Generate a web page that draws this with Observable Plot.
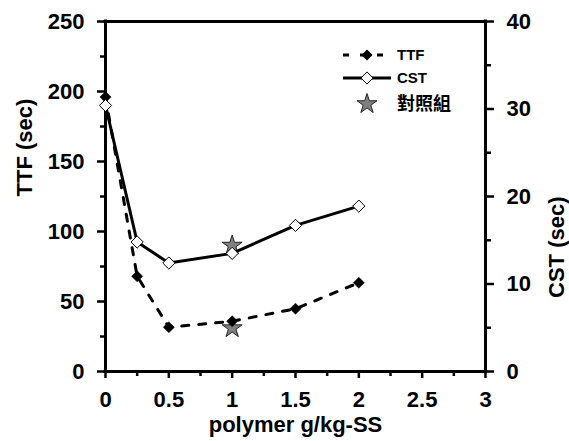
<!DOCTYPE html>
<html>
<head>
<meta charset="utf-8">
<script src="https://cdn.jsdelivr.net/npm/d3@7"></script>
<script src="https://cdn.jsdelivr.net/npm/@observablehq/plot@0.6"></script>
<style>
  html, body { margin: 0; padding: 0; background: #fff; }
  #chart { width: 569px; height: 441px; }
</style>
</head>
<body>
<div id="chart"></div>
<script>
// Polymer dose (g/kg-SS) and the two dewatering measures
const dose = [0, 0.25, 0.5, 1, 1.5, 2];
const ttf = [196, 68, 31.6, 35.9, 44.8, 63.4];   // time to filter, sec (left axis)
const cst = [30.4, 14.8, 12.4, 13.5, 16.7, 18.9]; // capillary suction time, sec (right axis)

// Control sample (對照組)
const controlDose = [1];
const controlTTF = [31];
const controlCST = [14.4];

// Axis ticks
const xTicks = [0, 0.5, 1, 1.5, 2, 2.5, 3];
const xMinor = [0.25, 0.75, 1.25, 1.75, 2.25, 2.75];
const ttfTicks = [0, 50, 100, 150, 200, 250];
const ttfMinor = [25, 75, 125, 175, 225];
const cstTicks = [0, 10, 20, 30, 40];
const cstMinor = [5, 15, 25, 35];

const legendLabels = ["TTF", "CST", "對照組"];

// CST is drawn on the TTF scale: 0–40 s maps onto 0–250 s
const k = 250 / 40;

const rows = dose.map((d, i) => ({dose: d, ttf: ttf[i], cst: cst[i]}));
const control = controlDose.map((d, i) => ({dose: d, ttf: controlTTF[i], cst: controlCST[i]}));

const font = "'Liberation Sans', Arial, sans-serif";

const chart = Plot.plot({
  width: 569,
  height: 441,
  marginLeft: 105,
  marginRight: 84,
  marginTop: 21,
  marginBottom: 70,
  style: {fontFamily: font, fontWeight: "bold", fontSize: "22px", color: "black", background: "white", overflow: "visible"},
  x: {domain: [0, 3]},
  y: {domain: [0, 250]},
  marks: [
    // bottom axis
    Plot.axisX({ticks: xTicks, tickSize: 7, tickPadding: 13, strokeWidth: 2.5, label: null, tickFormat: d => String(d)}),
    Plot.axisX({ticks: xMinor, tickSize: 5, strokeWidth: 2.5, label: null, tickFormat: () => ""}),
    // left axis (TTF)
    Plot.axisY({ticks: ttfTicks, tickSize: 8, tickPadding: 13, strokeWidth: 2.5, label: null, tickFormat: d => String(d)}),
    Plot.axisY({ticks: ttfMinor, tickSize: 5, strokeWidth: 2.5, label: null, tickFormat: () => ""}),
    // right axis (CST)
    Plot.axisY({anchor: "right", ticks: cstTicks.map(v => v * k), tickSize: 8, tickPadding: 13, strokeWidth: 2.5, label: null, tickFormat: d => String(Math.round(d / k))}),
    Plot.axisY({anchor: "right", ticks: cstMinor.map(v => v * k), tickSize: 5, strokeWidth: 2.5, label: null, tickFormat: () => ""}),
    // frame
    Plot.ruleX([0, 3], {strokeWidth: 3, strokeLinecap: "square"}),
    Plot.ruleY([0, 250], {strokeWidth: 3, strokeLinecap: "square"}),
    // axis titles
    Plot.text(["TTF (sec)"], {frameAnchor: "left", dx: -81, rotate: -90, fontSize: 22, fontWeight: "bold"}),
    Plot.text(["CST (sec)"], {frameAnchor: "right", dx: 71, rotate: -90, fontSize: 22, fontWeight: "bold"}),
    Plot.text(["polymer g/kg-SS"], {frameAnchor: "bottom", dy: 60, fontSize: 22, fontWeight: "bold"}),
    // control stars sit behind the series
    Plot.dot(control, {x: "dose", y: "ttf", symbol: "star", r: 6.3, fill: "#808080", stroke: "black", strokeWidth: 0.8}),
    Plot.dot(control, {x: "dose", y: d => d.cst * k, symbol: "star", r: 6.3, fill: "#808080", stroke: "black", strokeWidth: 0.8}),
    // TTF: dashed line, filled diamonds
    Plot.line(rows, {x: "dose", y: "ttf", stroke: "black", strokeWidth: 3, strokeDasharray: "7,10"}),
    Plot.dot(rows, {x: "dose", y: "ttf", symbol: "diamond2", r: 5, fill: "black", stroke: "black", strokeWidth: 0.5}),
    // CST: solid line, open diamonds
    Plot.line(rows, {x: "dose", y: d => d.cst * k, stroke: "black", strokeWidth: 3}),
    Plot.dot(rows, {x: "dose", y: d => d.cst * k, symbol: "diamond2", r: 5.5, fill: "white", stroke: "black", strokeWidth: 1})
  ]
});

document.getElementById("chart").appendChild(chart);

// In-plot legend, top right of the frame
const svg = d3.select(chart);
const lg = svg.append("g").attr("font-family", font).attr("font-weight", "bold").attr("text-anchor", "start");
const rowY = [55, 78, 104];
const sym = r => d3.symbol(d3.symbolDiamond2, r * r * Math.PI)();
const star = r => d3.symbol(d3.symbolStar, r * r * Math.PI)();

legendLabels.forEach((label, i) => {
  const g = lg.append("g").attr("transform", `translate(0,${rowY[i]})`);
  if (i === 0) {
    g.append("line").attr("x1", 343).attr("x2", 391).attr("stroke", "black").attr("stroke-width", 3).attr("stroke-dasharray", "6,11");
    g.append("path").attr("d", sym(5)).attr("transform", "translate(367,0)").attr("fill", "black");
  } else if (i === 1) {
    g.append("line").attr("x1", 343).attr("x2", 391).attr("stroke", "black").attr("stroke-width", 3);
    g.append("path").attr("d", sym(5.5)).attr("transform", "translate(367,0)").attr("fill", "white").attr("stroke", "black");
  } else {
    g.append("path").attr("d", star(6.3)).attr("transform", "translate(367,0)").attr("fill", "#808080").attr("stroke", "black").attr("stroke-width", 0.8);
  }
  g.append("text")
    .attr("x", 397)
    .attr("dy", "0.35em")
    .attr("text-anchor", "start")
    .attr("font-size", i === 2 ? 18 : 15)
    .attr("font-family", i === 2 ? "'Noto Sans CJK TC', " + font : font)
    .text(label);
});
</script>
</body>
</html>
